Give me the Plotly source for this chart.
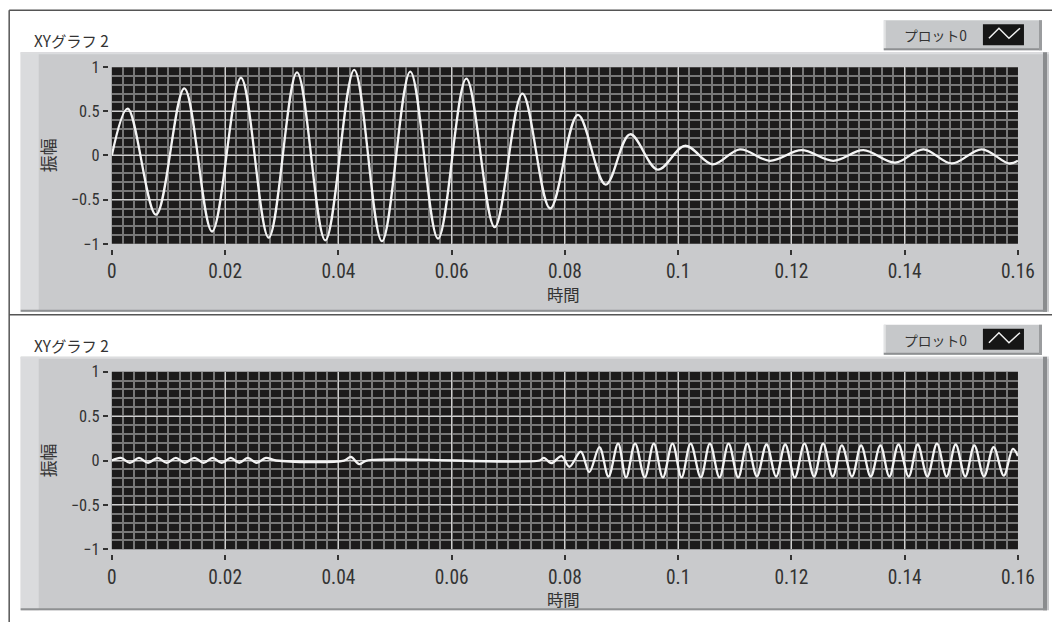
import plotly.graph_objects as go

# ---------------- data ----------------
top_t = [0, 0.0028, 0.0078, 0.0128, 0.0177, 0.0228, 0.0277, 0.0327, 0.0377, 0.0428,
         0.0477, 0.0527, 0.0576, 0.0626, 0.0676, 0.0725, 0.0774, 0.0823, 0.0872, 0.0915,
         0.0964, 0.1012, 0.1061, 0.1109, 0.1162, 0.1218, 0.1274, 0.1327, 0.1383, 0.1433,
         0.1483, 0.1536, 0.1584, 0.16]
top_v = [0, 0.53, -0.67, 0.76, -0.86, 0.88, -0.93, 0.94, -0.96, 0.97,
         -0.97, 0.95, -0.94, 0.87, -0.81, 0.70, -0.60, 0.46, -0.33, 0.24,
         -0.16, 0.11, -0.10, 0.07, -0.06, 0.06, -0.06, 0.06, -0.08, 0.07,
         -0.09, 0.07, -0.09, -0.06]

bot_t = [0, 0.0016, 0.0032, 0.0048, 0.0064, 0.0081, 0.0097, 0.0113, 0.0129, 0.0146,
         0.0162, 0.0178, 0.0194, 0.0210, 0.0225, 0.0240, 0.0256, 0.0272, 0.0290, 0.0410,
         0.0422, 0.0437, 0.0450, 0.0755, 0.0763, 0.0776, 0.0794, 0.0808, 0.0828, 0.0843,
         0.0861, 0.0877, 0.0894, 0.0908, 0.0924, 0.0941, 0.0957, 0.0973, 0.0990, 0.1006,
         0.1022, 0.1040, 0.1056, 0.1073, 0.1089, 0.1106, 0.1122, 0.1139, 0.1156, 0.1173,
         0.1189, 0.1206, 0.1223, 0.1240, 0.1256, 0.1273, 0.1289, 0.1307, 0.1323, 0.1340,
         0.1357, 0.1373, 0.1389, 0.1407, 0.1423, 0.1440, 0.1457, 0.1474, 0.1490, 0.1507,
         0.1523, 0.1540, 0.1557, 0.1575, 0.1591, 0.16]
bot_v = [0, 0.03, -0.025, 0.03, -0.025, 0.03, -0.025, 0.03, -0.025, 0.03,
         -0.025, 0.03, -0.025, 0.03, -0.025, 0.03, -0.025, 0.03, 0, 0,
         0.04, -0.04, 0, 0, 0.03, -0.03, 0.05, -0.07, 0.10, -0.13,
         0.15, -0.18, 0.19, -0.19, 0.19, -0.19, 0.19, -0.19, 0.19, -0.19,
         0.19, -0.19, 0.19, -0.19, 0.19, -0.19, 0.19, -0.18, 0.18, -0.18,
         0.18, -0.19, 0.19, -0.18, 0.19, -0.18, 0.17, -0.18, 0.17, -0.18,
         0.17, -0.18, 0.18, -0.18, 0.18, -0.18, 0.19, -0.18, 0.18, -0.18,
         0.17, -0.18, 0.15, -0.17, 0.13, 0.05]

x_ticks = [0, 0.02, 0.04, 0.06, 0.08, 0.1, 0.12, 0.14, 0.16]
x_ticklabels = ["0", "0.02", "0.04", "0.06", "0.08", "0.1", "0.12", "0.14", "0.16"]
y_ticks = [-1, -0.5, 0, 0.5, 1]
y_ticklabels = ["\u22121", "\u22120.5", "0", "0.5", "1"]

graph_title = "XYグラフ 2"
legend_name = "プロット0"
x_title = "時間"
y_title = "振幅"

# ---------------- layout helpers ----------------
# Mapping from reference-picture pixels to figure pixels (calibrated from
# earlier renders: page body margin plus the capture scale).
M = 8
SX, AX = 0.978, -3.5
SY, AY = 0.971, 1.0
W, H = 1060, 622

def fx(x):
    return (x - AX) / SX - M
def fy(y):
    return (y - AY) / SY - M
def px(x):
    return fx(x) / W
def py(y):
    return 1 - fy(y) / H

K = 1 / SX  # font scale
NUM_FONT = "Liberation Sans Narrow, Arial Narrow, Roboto Condensed, Roboto, sans-serif"
JP_FONT = "Noto Sans CJK JP, sans-serif"
TXT = "#333333"

PLOT_L, PLOT_R = 111, 1016
panels = [
    dict(off=0, plot_top=67, plot_bot=244, panel_bot=312),
    dict(off=305, plot_top=372, plot_bot=550, panel_bot=611),
]

fig = go.Figure()
fig.add_trace(go.Scatter(x=top_t, y=top_v, mode="lines", name=legend_name,
                         line=dict(color="#f4f4f4", width=2.3, shape="spline", smoothing=1),
                         xaxis="x", yaxis="y", showlegend=False))
fig.add_trace(go.Scatter(x=bot_t, y=bot_v, mode="lines", name=legend_name,
                         line=dict(color="#f4f4f4", width=2.3, shape="spline", smoothing=1),
                         xaxis="x2", yaxis="y2", showlegend=False))

shapes = []
annotations = []

def rect(x0, y0, x1, y1, fill):
    return dict(type="rect", xref="paper", yref="paper", x0=px(x0), x1=px(x1),
                y0=py(y1), y1=py(y0), fillcolor=fill, layer="below",
                line=dict(width=0))

def seg(x0, y0, x1, y1, color, w):
    return dict(type="line", xref="paper", yref="paper", x0=px(x0), x1=px(x1),
                y0=py(y0), y1=py(y1), layer="below", line=dict(color=color, width=w))

# outer frame lines
shapes.append(seg(8.5, 10, 1060, 10, "#555555", 1.5))
shapes.append(seg(8.5, 10, 8.5, 640, "#555555", 1.5))
shapes.append(seg(8.5, 315, 1060, 315, "#555555", 1.5))

axis_layout = {}
for i, p in enumerate(panels):
    o = p["off"]
    top, bot = 52 + o, p["panel_bot"]
    # gray panel with bevel
    shapes.append(rect(20, top, 1047, bot, "#c9cacc"))
    shapes.append(rect(20, top, 38, bot, "#dadbdd"))
    shapes.append(rect(20, top, 1047, top + 2, "#dcdddf"))
    shapes.append(rect(1041, top, 1045, bot, "#8a8c8e"))
    shapes.append(rect(20, bot - 2, 1045, bot, "#8e9092"))
    # black plot area
    shapes.append(rect(PLOT_L, p["plot_top"], PLOT_R, p["plot_bot"], "#1c1b1b"))
    # legend box
    shapes.append(rect(882, 20 + o, 1040, 50 + o, "#c6c8ca"))
    shapes.append(rect(882, 20 + o, 884, 50 + o, "#e2e3e4"))
    shapes.append(rect(882, 48 + o, 1040, 50 + o, "#8e9092"))
    shapes.append(rect(1037, 20 + o, 1040, 50 + o, "#9a9c9e"))
    shapes.append(rect(981, 24 + o, 1022, 45 + o, "#161616"))
    shapes.append(dict(type="path", xref="paper", yref="paper", layer="above",
                       path="M {} {} L {} {} L {} {} L {} {}".format(
                           px(987), py(38 + o), px(997), py(28 + o),
                           px(1007), py(38 + o), px(1018), py(28 + o)),
                       line=dict(color="#f0f0f0", width=1.5)))
    annotations.append(dict(xref="paper", yref="paper", x=px(934), y=py(35 + o),
                            text=legend_name, showarrow=False,
                            font=dict(family=JP_FONT, size=13.5 * K, color=TXT),
                            xanchor="center", yanchor="middle"))
    # titles
    annotations.append(dict(xref="paper", yref="paper", x=px(31), y=py(40 + o),
                            text=graph_title, showarrow=False,
                            font=dict(family=JP_FONT, size=15 * K, color=TXT),
                            xanchor="left", yanchor="middle"))
    annotations.append(dict(xref="paper", yref="paper", x=px(562), y=py(p["plot_bot"] + 50),
                            text=x_title, showarrow=False,
                            font=dict(family=JP_FONT, size=16 * K, color=TXT),
                            xanchor="center", yanchor="middle"))
    annotations.append(dict(xref="paper", yref="paper", x=px(47),
                            y=py((p["plot_top"] + p["plot_bot"]) / 2),
                            text=y_title, showarrow=False, textangle=-90,
                            font=dict(family=JP_FONT, size=16.5 * K, color=TXT),
                            xanchor="center", yanchor="middle"))

    sfx = "" if i == 0 else "2"
    axis_layout["xaxis" + sfx] = dict(
        domain=[px(PLOT_L), px(PLOT_R)], range=[0, 0.16],
        anchor="free", position=py(p["plot_bot"] + 5),
        tickmode="array", tickvals=x_ticks, ticktext=x_ticklabels,
        ticks="outside", ticklen=5, tickwidth=1.5, tickcolor="#333333",
        tickfont=dict(family=NUM_FONT, size=19 * K, color=TXT),
        showgrid=True, gridcolor="#cfcfcf", gridwidth=1.2,
        minor=dict(tickmode="linear", tick0=0, dtick=0.002, showgrid=True,
                   gridcolor="#787878", gridwidth=1.7, ticks=""),
        zeroline=False, showline=False, fixedrange=True,
    )
    axis_layout["yaxis" + sfx] = dict(
        domain=[py(p["plot_bot"]), py(p["plot_top"])], range=[-1, 1],
        anchor="free", position=px(PLOT_L - 4),
        tickmode="array", tickvals=y_ticks, ticktext=y_ticklabels,
        ticks="outside", ticklen=5, tickwidth=1.5, tickcolor="#333333",
        tickfont=dict(family=NUM_FONT, size=16 * K, color=TXT),
        showgrid=True, gridcolor="#cfcfcf", gridwidth=1.2,
        minor=dict(tickmode="linear", tick0=-1, dtick=0.1, showgrid=True,
                   gridcolor="#787878", gridwidth=1.7, ticks=""),
        zeroline=False, showline=False, fixedrange=True,
    )

fig.update_layout(
    width=W, height=H, margin=dict(l=0, r=0, t=0, b=0),
    paper_bgcolor="white", plot_bgcolor="rgba(0,0,0,0)",
    shapes=shapes, annotations=annotations, showlegend=False,
    **axis_layout,
)

fig.write_html("out.html")
